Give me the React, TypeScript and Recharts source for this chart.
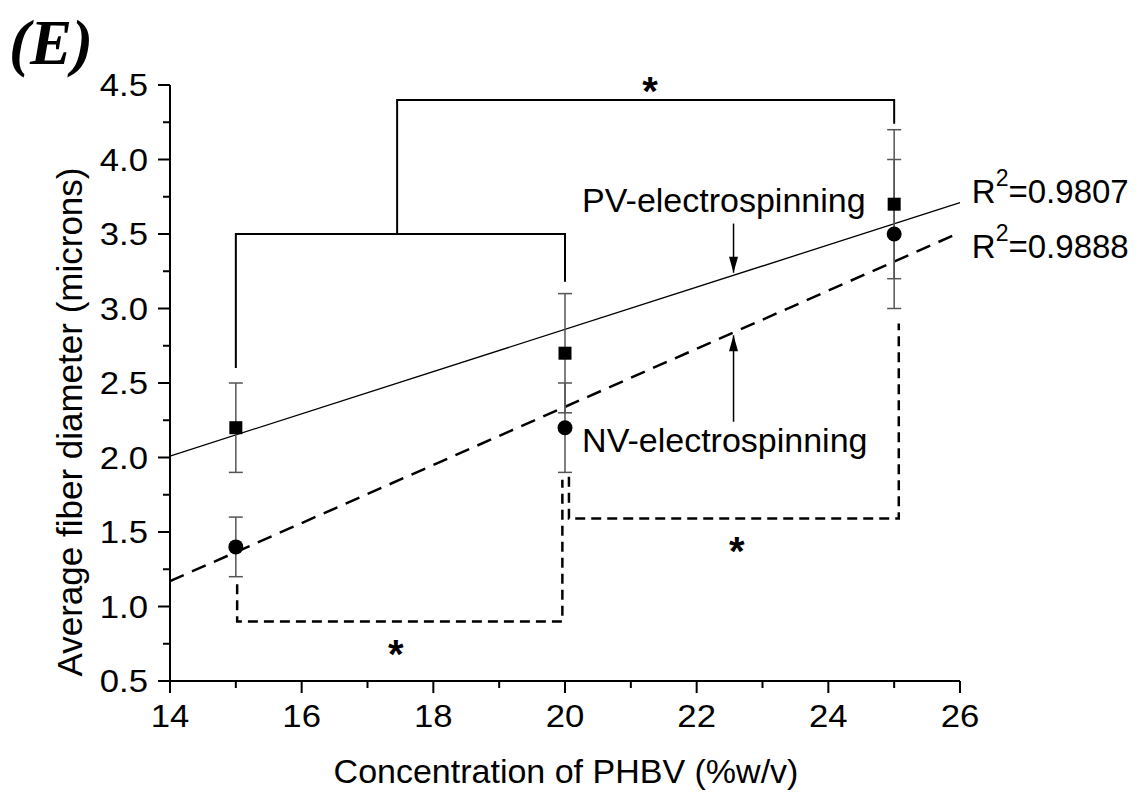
import React from 'react';
import { ComposedChart, Line, Scatter, XAxis, YAxis, ErrorBar, ReferenceDot } from 'recharts';

// measured points (mean ± error)
const concentrations = [15, 20, 25];
const pvMeans = [2.2, 2.7, 3.7];
const pvErrors = [0.3, 0.4, 0.5];
const nvMeans = [1.4, 2.2, 3.5];
const nvErrors = [0.2, 0.3, 0.5];

// linear fits as drawn, read at the axis ends
const fitX = [14, 26];
const pvFitY = [2.01, 3.71];
const nvFitY = [1.17, 3.51];

// significance brackets, [x, y] corner points
const pvBracketLow = [[15, 2.6], [15, 3.5], [20, 3.5], [20, 3.18]];
const pvBracketHigh = [[17.45, 3.5], [17.45, 4.4], [25, 4.4], [25, 4.24]];
const nvBracketLeft = [[15.02, 1.15], [15.02, 0.9], [19.96, 0.9], [19.96, 1.85]];
const nvBracketRight = [[20.06, 1.87], [20.06, 1.59], [25.07, 1.59], [25.07, 2.9]];

const starX = [21.29, 17.43, 22.61];
const starY = [4.52, 0.74, 1.43];

const curveNames = ['PV-electrospinning', 'NV-electrospinning'];
const curveNameX = [20.26, 20.26];
const curveNameY = [3.65, 2.04];
const arrowX = [22.56, 22.56];
const arrowFrom = [3.57, 2.24];
const arrowTo = [3.24, 2.82];

const r2Values = ['0.9807', '0.9888'];
const r2X = [26.18, 26.18];
const r2Y = [3.71, 3.34];

const xTicks = [14, 15, 16, 17, 18, 19, 20, 21, 22, 23, 24, 25, 26];
const yTicks = [0.5, 0.75, 1, 1.25, 1.5, 1.75, 2, 2.25, 2.5, 2.75, 3, 3.25, 3.5, 3.75, 4, 4.25, 4.5];

const FONT = '"Liberation Sans", Arial, sans-serif';

const toPoints = (xs: number[], ys: number[], es?: number[]) =>
  xs.map((x, i) => ({ x, y: ys[i], err: es ? es[i] : 0 }));
const toPath = (pts: number[][]) => pts.map(([x, y]) => ({ x, y }));

const pvData = toPoints(concentrations, pvMeans, pvErrors);
const nvData = toPoints(concentrations, nvMeans, nvErrors);
const pvFit = toPoints(fitX, pvFitY);
const nvFit = toPoints(fitX, nvFitY);
const arrows = arrowX.map((x, i) => [
  { x, y: arrowFrom[i] },
  { x, y: arrowTo[i] },
]);

const XTick = ({ x, y, payload }: any) => {
  const major = payload.value % 2 === 0;
  return (
    <g>
      <line x1={x} y1={y} x2={x} y2={y + (major ? 12 : 7)} stroke="#000" strokeWidth={2} />
      {major && (
        <text
          transform={`translate(${x},${y + 46}) scale(1.12,1)`}
          textAnchor="middle"
          fontSize={31}
          fontFamily={FONT}
          fill="#000"
        >
          {payload.value}
        </text>
      )}
    </g>
  );
};

const YTick = ({ x, y, payload }: any) => {
  const v = payload.value;
  const major = Math.abs(v * 2 - Math.round(v * 2)) < 1e-6;
  return (
    <g>
      <line x1={x} y1={y} x2={x - (major ? 12 : 7)} y2={y} stroke="#000" strokeWidth={2} />
      {major && (
        <text
          transform={`translate(${x - 22},${y + 11}) scale(1.12,1)`}
          textAnchor="end"
          fontSize={31}
          fontFamily={FONT}
          fill="#000"
        >
          {v.toFixed(1)}
        </text>
      )}
    </g>
  );
};

const squareShape = ({ cx, cy }: any) => <rect x={cx - 6.5} y={cy - 6.5} width={13} height={13} fill="#000" />;
const circleShape = ({ cx, cy }: any) => <circle cx={cx} cy={cy} r={7.5} fill="#000" />;

// arrow head at the last point, pointing along the shaft
const arrowHead = (pts: { x: number; y: number }[]) => (props: any) => {
  const { cx, cy, index } = props;
  if (index !== pts.length - 1) return <g key={index} />;
  const dir = pts[index].y < pts[index - 1].y ? 1 : -1; // 1 = pointing down on screen
  const len = 16;
  const half = 4.5;
  return (
    <polygon
      key={index}
      points={`${cx},${cy} ${cx - half},${cy - dir * len} ${cx + half},${cy - dir * len}`}
      fill="#000"
    />
  );
};

const starShape = ({ cx, cy }: any) => (
  <text x={cx} y={cy + 23} textAnchor="middle" fontSize={40} fontWeight="bold" fontFamily={FONT} fill="#000">
    *
  </text>
);

const nameShape = (name: string) => ({ cx, cy }: any) => (
  <text x={cx} y={cy} fontSize={34} fontFamily={FONT} fill="#000">
    {name}
  </text>
);

const r2Shape = (val: string) => ({ cx, cy }: any) => (
  <text x={cx} y={cy} fontSize={33} fontFamily={FONT} fill="#000">
    R
    <tspan fontSize={23} dy={-17}>
      2
    </tspan>
    <tspan dy={17}>={val}</tspan>
  </text>
);

const bracket = (pts: number[][], key: string, dashed: boolean) => (
  <Line
    key={key}
    data={toPath(pts)}
    dataKey="y"
    type="linear"
    stroke="#000"
    strokeWidth={dashed ? 2.5 : 2}
    strokeDasharray={dashed ? '10 6' : undefined}
    dot={false}
    activeDot={false}
    isAnimationActive={false}
  />
);

export default function App() {
  return (
    <div style={{ position: 'absolute', left: 0, top: 0, width: 1138, height: 792, background: '#fff' }}>
      <ComposedChart width={1138} height={792} margin={{ top: 85, right: 178, left: 0, bottom: 0 }}>
        <XAxis
          type="number"
          dataKey="x"
          domain={[14, 26]}
          ticks={xTicks}
          interval={0}
          height={111}
          tick={<XTick />}
          tickLine={false}
          tickSize={0}
          tickMargin={0}
          axisLine={{ stroke: '#000', strokeWidth: 2 }}
        />
        <YAxis
          type="number"
          domain={[0.5, 4.5]}
          ticks={yTicks}
          interval={0}
          width={170}
          tick={<YTick />}
          tickLine={false}
          tickSize={0}
          tickMargin={0}
          axisLine={{ stroke: '#000', strokeWidth: 2 }}
        />

        {bracket(pvBracketLow, 'pvLow', false)}
        {bracket(pvBracketHigh, 'pvHigh', false)}
        {bracket(nvBracketLeft, 'nvLeft', true)}
        {bracket(nvBracketRight, 'nvRight', true)}

        <Line
          data={pvFit}
          dataKey="y"
          type="linear"
          stroke="#000"
          strokeWidth={1.3}
          dot={false}
          activeDot={false}
          isAnimationActive={false}
        />
        <Line
          data={nvFit}
          dataKey="y"
          type="linear"
          stroke="#000"
          strokeWidth={2.5}
          strokeDasharray="15 9"
          dot={false}
          activeDot={false}
          isAnimationActive={false}
        />

        {arrows.map((pts, i) => (
          <Line
            key={`arrow${i}`}
            data={pts}
            dataKey="y"
            type="linear"
            stroke="#000"
            strokeWidth={1.5}
            dot={arrowHead(pts)}
            activeDot={false}
            isAnimationActive={false}
          />
        ))}

        <Scatter data={pvData} dataKey="y" shape={squareShape} isAnimationActive={false}>
          <ErrorBar dataKey="err" direction="y" width={7} stroke="#555" strokeWidth={1.5} />
        </Scatter>
        <Scatter data={nvData} dataKey="y" shape={circleShape} isAnimationActive={false}>
          <ErrorBar dataKey="err" direction="y" width={7} stroke="#555" strokeWidth={1.5} />
        </Scatter>

        {starX.map((x, i) => (
          <ReferenceDot key={`star${i}`} x={x} y={starY[i]} r={0} ifOverflow="visible" shape={starShape} />
        ))}
        {curveNames.map((n, i) => (
          <ReferenceDot
            key={`name${i}`}
            x={curveNameX[i]}
            y={curveNameY[i]}
            r={0}
            ifOverflow="visible"
            shape={nameShape(n)}
          />
        ))}
        {r2Values.map((v, i) => (
          <ReferenceDot key={`r2${i}`} x={r2X[i]} y={r2Y[i]} r={0} ifOverflow="visible" shape={r2Shape(v)} />
        ))}
      </ComposedChart>

      <svg
        width={1138}
        height={792}
        style={{ position: 'absolute', left: 0, top: 0, pointerEvents: 'none' }}
      >
        <text
          x={9}
          y={64}
          fontSize={63}
          fontWeight="bold"
          fontStyle="italic"
          fontFamily='"Liberation Serif", "Times New Roman", serif'
          fill="#000"
        >
          (E)
        </text>
        <text x={566} y={783} textAnchor="middle" fontSize={34} fontFamily={FONT} fill="#000">
          Concentration of PHBV (%w/v)
        </text>
        <text
          transform="translate(82,422) rotate(-90)"
          textAnchor="middle"
          fontSize={35}
          fontFamily={FONT}
          fill="#000"
        >
          Average fiber diameter (microns)
        </text>
      </svg>
    </div>
  );
}
